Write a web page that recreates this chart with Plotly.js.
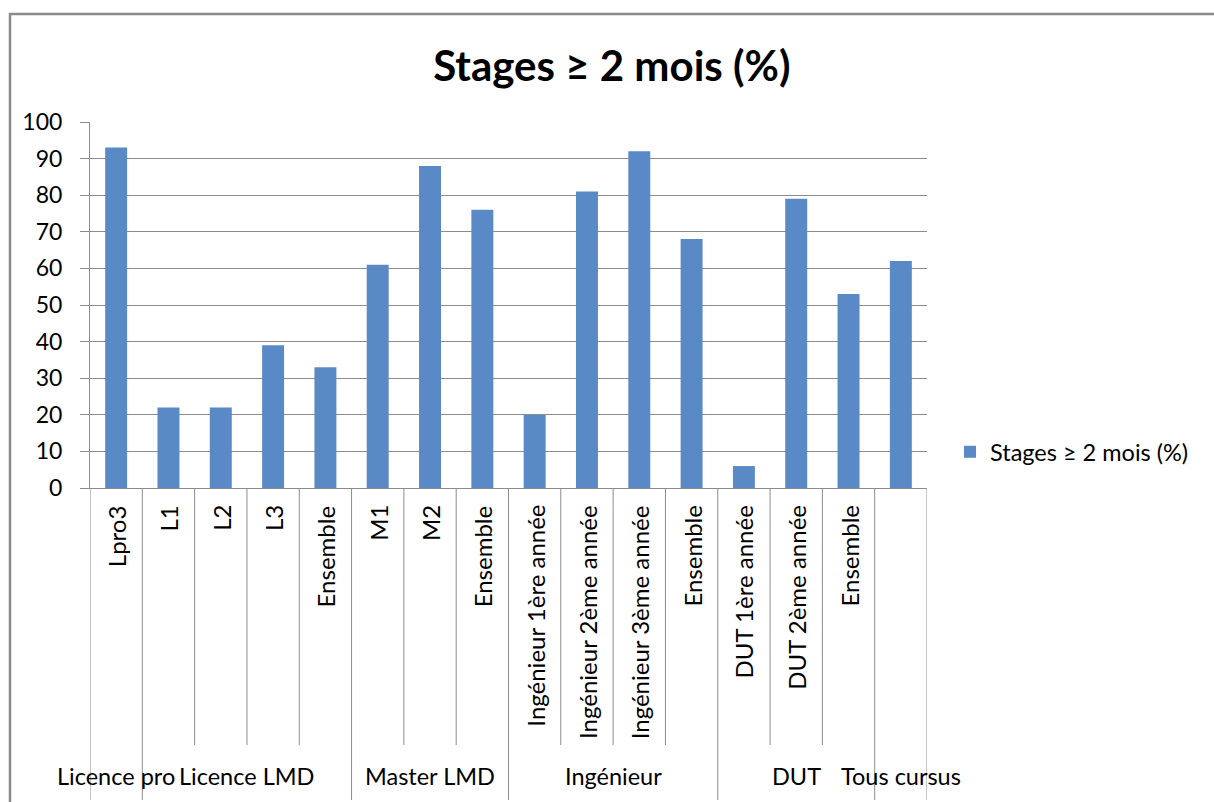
<!DOCTYPE html>
<html>
<head>
<meta charset="utf-8">
<script src="https://cdn.plot.ly/plotly-3.0.1.min.js"></script>
<style>
html,body{margin:0;padding:0;background:#fff;}
#chart{width:1214px;height:802px;}
</style>
</head>
<body>
<div id="chart"></div>
<script>
// ---- data ----
const groups = ['Licence pro', 'Licence LMD', 'Master LMD', 'Ingénieur', 'DUT', 'Tous cursus'];
const barGroup = [0, 1, 1, 1, 1, 2, 2, 2, 3, 3, 3, 3, 4, 4, 4, 5];
const subLabels = ['Lpro3', 'L1', 'L2', 'L3', 'Ensemble', 'M1', 'M2', 'Ensemble',
  'Ingénieur 1ère année', 'Ingénieur 2ème année', 'Ingénieur 3ème année', 'Ensemble',
  'DUT 1ère année', 'DUT 2ème année', 'Ensemble', ''];
const values = [93, 22, 22, 39, 33, 61, 88, 76, 20, 81, 92, 68, 6, 79, 53, 62];
const seriesName = 'Stages ≥ 2 mois (%)';
const chartTitle = 'Stages ≥ 2 mois (%)';

// ---- layout helpers ----
const FONT = 'Lato, Calibri, "Open Sans", sans-serif';
const W = 1214, H = 802;
const M = {l: 90, r: 287, t: 122, b: 314};
const plotH = H - M.t - M.b;
const pxY = p => (H - M.b - p) / plotH;   // pixel y -> paper y
const pxX = p => (p - M.l) / (W - M.l - M.r);
const LINE = '#8c8c8c';

const xs = values.map((_, i) => i);

const annotations = [];
subLabels.forEach((t, i) => {
  if (!t) return;
  annotations.push({
    x: i, xref: 'x', y: pxY(503), yref: 'paper',
    text: t, textangle: -90, showarrow: false,
    xanchor: 'center', yanchor: 'top',
    font: {family: FONT, size: 24, color: '#000'}
  });
});
groups.forEach((g, gi) => {
  const idx = barGroup.map((v, i) => v === gi ? i : -1).filter(i => i >= 0);
  const c = (idx[0] + idx[idx.length - 1]) / 2;
  annotations.push({
    x: c, xref: 'x', y: pxY(776), yref: 'paper',
    text: g, showarrow: false, xanchor: 'center', yanchor: 'middle',
    font: {family: FONT, size: 23.5, color: '#000'}
  });
});

const shapes = [];
for (let i = 0; i <= values.length; i++) {
  const isGroupEdge = i === 0 || i === values.length || barGroup[i] !== barGroup[i - 1];
  shapes.push({
    type: 'line', xref: 'x', yref: 'paper',
    x0: i - 0.5, x1: i - 0.5, y0: 0, y1: isGroupEdge ? pxY(800) : pxY(745),
    line: {color: LINE, width: 1}, layer: 'above'
  });
}
// outer chart frame
shapes.push({
  type: 'rect', xref: 'paper', yref: 'paper',
  x0: pxX(10), x1: pxX(1230), y0: pxY(14), y1: pxY(830),
  line: {color: '#8a8a8a', width: 2.5}, fillcolor: 'rgba(0,0,0,0)'
});

const data = [{
  type: 'bar', x: xs, y: values, name: seriesName,
  marker: {color: '#5a8ac6'}, showlegend: true, hoverinfo: 'y'
}];

const layout = {
  width: W, height: H,
  margin: M,
  paper_bgcolor: '#fff', plot_bgcolor: '#fff',
  font: {family: FONT, size: 23, color: '#000'},
  title: {
    text: '<b>' + chartTitle + '</b>',
    font: {family: FONT, size: 42, color: '#000'},
    x: 0.504, xanchor: 'center', y: 1 - 66 / H, yanchor: 'middle', yref: 'container'
  },
  bargap: 0.58,
  xaxis: {
    range: [-0.5, values.length - 0.5], showticklabels: false, ticks: '',
    showgrid: false, zeroline: false, showline: true, linecolor: LINE, linewidth: 1,
    fixedrange: true
  },
  yaxis: {
    range: [0, 100], dtick: 10, tick0: 0,
    showgrid: true, gridcolor: LINE, gridwidth: 1,
    zeroline: false, showline: true, linecolor: LINE, linewidth: 1,
    ticks: 'outside', ticklen: 9, tickcolor: LINE, tickwidth: 1,
    ticklabelstandoff: 13,
    tickfont: {family: FONT, size: 23, color: '#000'},
    fixedrange: true
  },
  legend: {
    x: pxX(950), xanchor: 'left', y: pxY(452), yanchor: 'middle',
    font: {family: FONT, size: 23.5, color: '#000'},
    bgcolor: 'rgba(0,0,0,0)', borderwidth: 0
  },
  annotations: annotations,
  shapes: shapes,
  showlegend: true
};

Plotly.newPlot('chart', data, layout, {displayModeBar: false, staticPlot: true});
</script>
</body>
</html>
